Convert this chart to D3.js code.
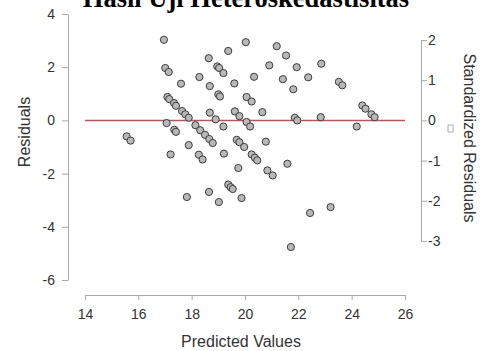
<!DOCTYPE html>
<html>
<head>
<meta charset="utf-8">
<script src="https://cdn.jsdelivr.net/npm/d3@7"></script>
<style>
  html, body { margin: 0; padding: 0; background: #fff; }
  svg { display: block; }
</style>
</head>
<body>
<svg id="chart" width="486" height="351"></svg>
<script>
// ---- data ----
const title = "Hasil Uji Heteroskedastisitas";
const xLabel = "Predicted Values";
const yLabel = "Residuals";
const y2Label = "Standardized Residuals";
const xTicks = [14, 16, 18, 20, 22, 24, 26];
const yTicks = [4, 2, 0, -2, -4, -6];
const y2Ticks = [2, 1, 0, -1, -2, -3];
const residualSD = 1.51;
const predicted = [
  15.56, 15.71, 16.96, 17.01, 17.14, 17.09, 17.16, 17.34, 17.41, 17.06,
  17.35, 17.41, 17.21, 17.60, 17.64, 17.76, 17.89, 17.89, 17.82, 18.14,
  18.32, 18.50, 18.66, 18.79, 18.27, 18.41, 18.29, 18.64, 18.96, 19.03,
  19.19, 18.68, 19.60, 19.00, 19.06, 18.68, 18.90, 19.19, 19.21, 19.37,
  20.03, 21.19, 21.54, 20.91, 21.94, 20.34, 21.42, 21.81, 20.06, 20.25,
  19.62, 19.79, 20.06, 20.19, 20.65, 21.87, 21.96, 19.69, 19.79, 19.97,
  20.78, 20.25, 20.37, 20.46, 19.75, 20.84, 21.04, 21.59, 19.37, 19.46,
  19.54, 18.65, 19.02, 19.87, 21.72, 22.86, 22.37, 23.52, 23.65, 24.40,
  24.52, 24.74, 24.86, 22.84, 24.19, 22.44, 23.21
];
const residuals = [
  -0.60, -0.76, 3.03, 1.97, 1.82, 0.88, 0.80, 0.65, 0.55, -0.10,
  -0.35, -0.43, -1.28, 1.38, 0.35, 0.23, 0.10, -0.93, -2.88, -0.18,
  -0.37, -0.54, -0.70, -0.85, -1.29, -1.47, 1.63, 2.34, 2.03, 1.97,
  1.78, 1.29, 1.39, 0.98, 0.90, 0.29, 0.04, -0.23, -1.25, 2.61,
  2.94, 2.79, 2.44, 2.07, 2.00, 1.64, 1.55, 1.17, 0.88, 0.71,
  0.34, 0.16, -0.06, -0.23, 0.31, 0.10, 0.00, -0.73, -0.82, -1.00,
  -0.80, -1.28, -1.40, -1.50, -1.79, -1.88, -2.07, -1.63, -2.41, -2.51,
  -2.58, -2.69, -3.07, -2.92, -4.76, 2.13, 1.62, 1.45, 1.32, 0.56,
  0.44, 0.23, 0.12, 0.12, -0.23, -3.48, -3.26
];

// ---- drawing ----
const svg = d3.select("#chart");
const x = d3.scaleLinear().domain([14, 26]).range([85, 405]);
const y = d3.scaleLinear().domain([-6, 4]).range([280, 14]);
const y2 = d3.scaleLinear().domain([-3, 2])
  .range([y(-3 * residualSD), y(2 * residualSD)]);

const axisColor = "#a8a8a8";
const textColor = "#333";
const sans = "'Liberation Sans', Arial, sans-serif";
const fmt = d => String(d);

function styleAxis(g) {
  g.selectAll("path.domain").attr("stroke", axisColor).attr("stroke-width", 1);
  g.selectAll(".tick line").attr("stroke", axisColor).attr("stroke-width", 1);
  g.selectAll(".tick text").attr("fill", textColor)
    .attr("font-family", sans).attr("font-size", 14);
}

svg.append("g").attr("transform", "translate(0,295)")
  .call(d3.axisBottom(x).tickValues(xTicks).tickFormat(fmt)
    .tickSize(5).tickSizeOuter(0).tickPadding(9))
  .call(styleAxis);

svg.append("g").attr("transform", "translate(68,0)")
  .call(d3.axisLeft(y).tickValues(yTicks).tickFormat(fmt)
    .tickSize(6).tickSizeOuter(0).tickPadding(7))
  .call(styleAxis);

svg.append("g").attr("transform", "translate(421,0)")
  .call(d3.axisRight(y2).tickValues(y2Ticks).tickFormat(fmt)
    .tickSize(6).tickSizeOuter(0).tickPadding(1))
  .call(styleAxis);

// zero reference line
svg.append("line")
  .attr("x1", x(14)).attr("x2", x(26))
  .attr("y1", y(0)).attr("y2", y(0))
  .attr("stroke", "#b4575c").attr("stroke-width", 1.5);

// points
svg.append("g").selectAll("circle")
  .data(predicted.map((p, i) => ({ p, r: residuals[i] })))
  .join("circle")
  .attr("cx", d => x(d.p))
  .attr("cy", d => y(d.r))
  .attr("r", 3.6)
  .attr("fill", "#b8b8b8")
  .attr("stroke", "#3c3c3c")
  .attr("stroke-width", 1);

// title (clipped at the top edge, as in the reference)
svg.append("text")
  .attr("x", 246).attr("y", 7)
  .attr("text-anchor", "middle")
  .attr("font-family", "'Liberation Serif', 'Times New Roman', serif")
  .attr("font-weight", "bold")
  .attr("font-size", 26.5)
  .attr("fill", "#000")
  .text(title);

// axis titles
svg.append("text")
  .attr("x", 241).attr("y", 347)
  .attr("text-anchor", "middle")
  .attr("font-family", sans).attr("font-size", 16).attr("fill", textColor)
  .text(xLabel);

svg.append("text")
  .attr("transform", "translate(30,132) rotate(-90)")
  .attr("text-anchor", "middle")
  .attr("font-family", sans).attr("font-size", 16).attr("fill", textColor)
  .text(yLabel);

svg.append("text")
  .attr("transform", "translate(464,138) rotate(90)")
  .attr("text-anchor", "middle")
  .attr("font-family", sans).attr("font-size", 16).attr("fill", textColor)
  .text(y2Label);

// small empty box next to right axis title
svg.append("rect")
  .attr("x", 448).attr("y", 125).attr("width", 5).attr("height", 7)
  .attr("fill", "none").attr("stroke", "#999").attr("stroke-width", 0.8);
</script>
</body>
</html>
